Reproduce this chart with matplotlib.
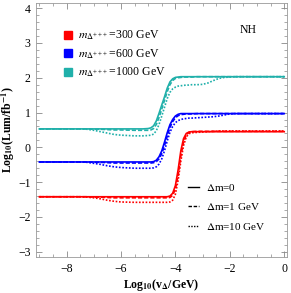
import numpy as np
import matplotlib.pyplot as plt
from matplotlib.lines import Line2D

plt.rcParams['font.family'] = ['Liberation Serif', 'DejaVu Serif']
plt.rcParams['mathtext.fontset'] = 'stix'

# log10(v_Delta/GeV) sample points
x = [-9.0, -8.0, -7.5, -7.25, -7.0, -6.75, -6.5, -6.25, -6.0, -5.5, -5.2,
     -5.0, -4.9, -4.8, -4.7, -4.6, -4.5, -4.4, -4.3, -4.2, -4.1, -4.0, -3.9, -3.8, -3.7, -3.6, -3.5, -3.4,
     -3.2, -3.0, -2.8, -2.6, -2.4, -2.2, -2.0, -1.8,
     -1.5, -1.0, 0.0]

# m = 300 GeV
red_0 = [-1.42, -1.42, -1.42, -1.42, -1.42, -1.42, -1.42, -1.42, -1.42, -1.42, -1.42,
         -1.42, -1.42, -1.42, -1.42, -1.42, -1.42, -1.42, -1.42, -1.40, -1.32, -1.10, -0.65, -0.10, 0.25, 0.40, 0.44, 0.45,
         0.45, 0.45, 0.45, 0.45, 0.45, 0.45, 0.45, 0.45,
         0.45, 0.45, 0.45]
red_1 = [-1.42, -1.42, -1.42, -1.42, -1.43, -1.43, -1.44, -1.45, -1.45, -1.45, -1.45,
         -1.45, -1.45, -1.45, -1.45, -1.45, -1.45, -1.45, -1.45, -1.44, -1.38, -1.20, -0.80, -0.25, 0.15, 0.36, 0.43, 0.45,
         0.46, 0.46, 0.46, 0.46, 0.46, 0.46, 0.46, 0.46,
         0.46, 0.46, 0.46]
red_10 = [-1.42, -1.42, -1.42, -1.43, -1.45, -1.48, -1.52, -1.55, -1.57, -1.58, -1.58,
          -1.58, -1.58, -1.58, -1.58, -1.58, -1.58, -1.58, -1.58, -1.57, -1.52, -1.35, -0.95, -0.40, 0.05, 0.30, 0.39, 0.42,
          0.43, 0.44, 0.45, 0.46, 0.47, 0.47, 0.47, 0.47,
          0.47, 0.47, 0.47]

# m = 600 GeV
blue_0 = [-0.42, -0.42, -0.42, -0.42, -0.42, -0.42, -0.42, -0.42, -0.42, -0.42, -0.42,
          -0.42, -0.42, -0.41, -0.37, -0.27, -0.10, 0.15, 0.42, 0.65, 0.80, 0.90, 0.95, 0.97, 0.97, 0.97, 0.97, 0.97,
          0.97, 0.97, 0.97, 0.97, 0.97, 0.97, 0.97, 0.97,
          0.97, 0.97, 0.97]
blue_1 = [-0.42, -0.42, -0.42, -0.42, -0.43, -0.43, -0.44, -0.45, -0.45, -0.45, -0.45,
          -0.45, -0.45, -0.44, -0.41, -0.33, -0.18, 0.05, 0.32, 0.57, 0.74, 0.85, 0.91, 0.94, 0.95, 0.96, 0.96, 0.96,
          0.97, 0.97, 0.97, 0.97, 0.97, 0.97, 0.97, 0.97,
          0.97, 0.97, 0.97]
blue_10 = [-0.42, -0.42, -0.42, -0.43, -0.46, -0.49, -0.53, -0.56, -0.58, -0.60, -0.60,
           -0.60, -0.60, -0.59, -0.56, -0.48, -0.33, -0.10, 0.18, 0.43, 0.60, 0.71, 0.77, 0.80, 0.82, 0.83, 0.84, 0.84,
           0.85, 0.86, 0.87, 0.88, 0.90, 0.93, 0.96, 0.97,
           0.97, 0.97, 0.97]

# m = 1000 GeV
cyan_0 = [0.53, 0.53, 0.53, 0.53, 0.53, 0.53, 0.53, 0.53, 0.53, 0.53, 0.53,
          0.54, 0.56, 0.62, 0.76, 0.98, 1.22, 1.45, 1.70, 1.88, 1.97, 2.01, 2.02, 2.03, 2.03, 2.03, 2.03, 2.03,
          2.03, 2.03, 2.03, 2.03, 2.03, 2.03, 2.03, 2.03,
          2.03, 2.03, 2.03]
cyan_1 = [0.53, 0.53, 0.53, 0.53, 0.52, 0.52, 0.51, 0.50, 0.50, 0.49, 0.49,
          0.49, 0.50, 0.54, 0.66, 0.86, 1.10, 1.35, 1.60, 1.80, 1.92, 1.98, 2.00, 2.01, 2.02, 2.02, 2.02, 2.02,
          2.03, 2.03, 2.03, 2.03, 2.03, 2.03, 2.03, 2.03,
          2.03, 2.03, 2.03]
cyan_10 = [0.53, 0.53, 0.53, 0.52, 0.49, 0.45, 0.41, 0.37, 0.35, 0.33, 0.33,
           0.34, 0.35, 0.38, 0.48, 0.66, 0.90, 1.15, 1.40, 1.58, 1.68, 1.73, 1.76, 1.77, 1.78, 1.79, 1.79, 1.80,
           1.80, 1.81, 1.85, 1.92, 1.98, 2.01, 2.02, 2.03,
           2.03, 2.03, 2.03]

masses = ['300', '600', '1000']
colors = ['#ff0000', '#0000ff', '#20b0aa']
series = [(red_0, red_1, red_10), (blue_0, blue_1, blue_10), (cyan_0, cyan_1, cyan_10)]
dm_labels = [r'$\Delta$m=0', r'$\Delta$m=1 GeV', r'$\Delta$m=10 GeV']
styles = ['-', (0, (2.5, 1.2)), (0, (1, 1))]

fig = plt.figure(figsize=(2.91, 2.93), dpi=100)
ax = fig.add_axes([0.124, 0.123, 0.862, 0.867])

for col, curves in zip(colors, series):
    for y, ls in zip(curves, styles):
        ax.plot(x, y, color=col, ls=ls, lw=1.2)

ax.set_xlim(-9.12, 0.1)
ax.set_ylim(-3.15, 4.15)
ax.set_xticks([-8, -6, -4, -2, 0])
ax.set_yticks([-3, -2, -1, 0, 1, 2, 3, 4])
ax.set_xticks(np.arange(-9, 0.01, 0.5), minor=True)
ax.set_yticks(np.arange(-3, 4.01, 0.2), minor=True)
ax.tick_params(which='both', direction='in', top=True, right=True, colors='#888888',
               labelcolor='black', labelsize=8.5, pad=4)
ax.tick_params(which='major', length=4, width=0.6)
ax.tick_params(which='minor', length=2, width=0.5)
ax.tick_params(axis='x', pad=4)
for s in ax.spines.values():
    s.set_color('#999999')
    s.set_linewidth(0.6)

ax.set_xlabel(r'Log$_{\mathbf{10}}$(v$_{\mathbf{\Delta}}$/GeV)', fontsize=8.5,
              fontweight='bold', labelpad=2)
ax.set_ylabel(r'Log$_{\mathbf{10}}$(Lum/fb$^{\mathbf{-1}}$)', fontsize=8.5,
              fontweight='bold', labelpad=1)

ax.text(0.81, 0.88, 'NH', transform=ax.transAxes, fontsize=8.5)

h1 = [Line2D([], [], ls='none', marker='s', ms=6, color=c) for c in colors]
l1 = [r'$m_{\Delta^{+++}}$=%s GeV' % m for m in masses]
leg1 = ax.legend(h1, l1, loc='upper left', bbox_to_anchor=(0.065, 0.94), frameon=False,
                 fontsize=8.5, handlelength=0.8, handletextpad=0.45, labelspacing=0.42)
ax.add_artist(leg1)

h2 = [Line2D([], [], color='black', ls=ls, lw=1.0) for ls in styles]
ax.legend(h2, dm_labels, loc='upper left', bbox_to_anchor=(0.565, 0.335), frameon=False,
          fontsize=8, handlelength=1.0, handletextpad=0.6, labelspacing=0.75)

fig.savefig('out.png', dpi=100)
